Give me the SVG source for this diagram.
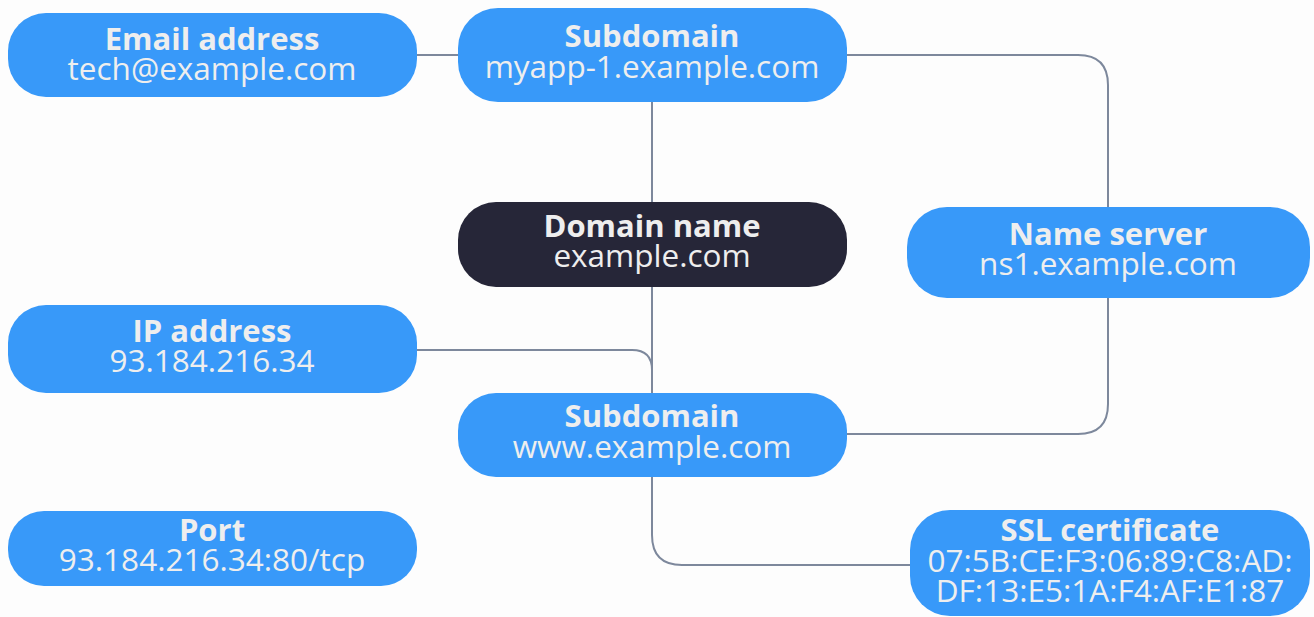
<svg xmlns="http://www.w3.org/2000/svg" width="1314" height="617" viewBox="0 0 1314 617">
<style>
.n{fill:#3899f9}
.d{fill:#262638}
.t{font-family:"Open Sans","Noto Sans",sans-serif;font-weight:700;font-size:31px;fill:#eeeeee;text-anchor:middle}
.v{font-family:"Open Sans","Noto Sans",sans-serif;font-weight:400;font-size:31.5px;fill:#eeeeee;text-anchor:middle}
.c{fill:none;stroke:#7d889c;stroke-width:2}
</style>
<rect width="1314" height="617" fill="#fdfdfd"/>
<g id="connectors">
<path class="c" d="M417 55 H458"/>
<path class="c" d="M652 102 V202"/>
<path class="c" d="M652 287 V393"/>
<path class="c" d="M847 55 H1078 Q1108 55 1108 85 V207"/>
<path class="c" d="M417 350 H632 Q652 350 652 370 V393"/>
<path class="c" d="M847 434 H1078 Q1108 434 1108 404 V298"/>
<path class="c" d="M652 477 V535 Q652 565 682 565 H910"/>
</g>
<g id="email"><rect class="n" x="8" y="13" width="409" height="84" rx="38"/><text class="t" x="212" y="50">Email address</text><text class="v" x="212" y="80">tech@example.com</text></g>
<g id="subdomain-myapp"><rect class="n" x="458" y="8" width="389" height="94" rx="40"/><text class="t" x="652" y="47">Subdomain</text><text class="v" x="652" y="78">myapp-1.example.com</text></g>
<g id="domain"><rect class="d" x="458" y="202" width="389" height="85" rx="38"/><text class="t" x="652" y="237">Domain name</text><text class="v" x="652" y="267">example.com</text></g>
<g id="nameserver"><rect class="n" x="907" y="207" width="403" height="91" rx="40"/><text class="t" x="1108" y="245">Name server</text><text class="v" x="1108" y="275">ns1.example.com</text></g>
<g id="ip"><rect class="n" x="8" y="305" width="409" height="88" rx="38"/><text class="t" x="212" y="342">IP address</text><text class="v" x="212" y="372">93.184.216.34</text></g>
<g id="subdomain-www"><rect class="n" x="458" y="393" width="389" height="84" rx="38"/><text class="t" x="652" y="427">Subdomain</text><text class="v" x="652" y="458">www.example.com</text></g>
<g id="port"><rect class="n" x="8" y="511" width="409" height="75" rx="36"/><text class="t" x="212" y="541">Port</text><text class="v" x="212" y="571">93.184.216.34:80/tcp</text></g>
<g id="ssl"><rect class="n" x="910" y="510" width="400" height="106" rx="40"/><text class="t" x="1110" y="541">SSL certificate</text><text class="v" x="1110" y="572">07:5B:CE:F3:06:89:C8:AD:</text><text class="v" x="1110" y="602">DF:13:E5:1A:F4:AF:E1:87</text></g>
</svg>
